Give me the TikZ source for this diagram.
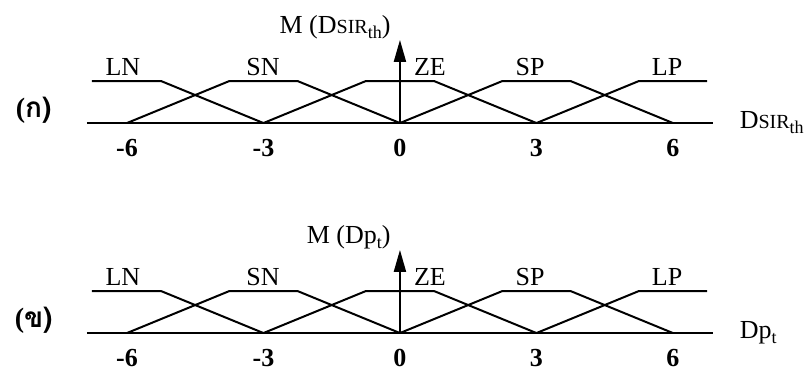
\documentclass[tikz,border=0pt]{standalone}
\usepackage{fontspec}
\setmainfont{Liberation Serif}
\newfontfamily\thaifont[Script=Thai]{Loma}
\usetikzlibrary{arrows.meta}
\newcommand{\dsir}{D{\fontsize{10}{11}\selectfont SIR}\raisebox{-.45ex}{\fontsize{9}{10}\selectfont th}}
\newcommand{\dpt}{Dp\raisebox{-.45ex}{\fontsize{9}{10}\selectfont t}}
\tikzset{
  setname/.style={anchor=base,font=\fontsize{13}{15}\selectfont},
  ticklbl/.style={anchor=base,font=\fontsize{13}{15}\selectfont\bfseries},
  panel/.style={font=\fontsize{14}{16}\selectfont\bfseries},
}
\begin{document}
\begin{tikzpicture}[x=22.75pt,y=21pt,line width=1pt]
\useasboundingbox (-8.79,-5.93) rectangle (8.88,2.93);
\foreach \yy/\tag/\var/\nm in {0/ก/\dsir/a,-5/ข/\dpt/b}{
 \begin{scope}[yshift=\yy*21pt]
 % universe and membership axis
 \draw (-6.88,0) -- (6.88,0);
 \draw[-{Triangle[length=11pt,width=6pt]}] (0,0) -- (0,1.98);
 % fuzzy sets
 \draw (-6.77,1) -- (-5.25,1) -- (-3,0);
 \foreach \ctr in {-3,0,3}
  \draw ({\ctr-3},0) -- ({\ctr-.75},1) -- ({\ctr+.75},1) -- ({\ctr+3},0);
 \draw (3,0) -- (5.25,1) -- (6.75,1);
 \foreach \st/\lx in {LN/-6.09,SN/-3.01,ZE/.66,SP/2.86,LP/5.87}
  \node[setname] (\st-\nm) at (\lx,1.14) {\st};
 \foreach \tk in {-6,-3,0,3,6}
  \node[ticklbl] (tick\tk-\nm) at (\tk,-.8) {\tk};
 \node[setname,anchor=base east] (m-\nm) at (-.04,2.14) {M (\var)};
 \node[setname,anchor=base west] (var-\nm) at (7.3,-.12) {\var};
 \node[panel] (tag-\nm) at (-8.05,.3) {(\thaifont\tag)};
 \end{scope}}
\end{tikzpicture}
\end{document}
